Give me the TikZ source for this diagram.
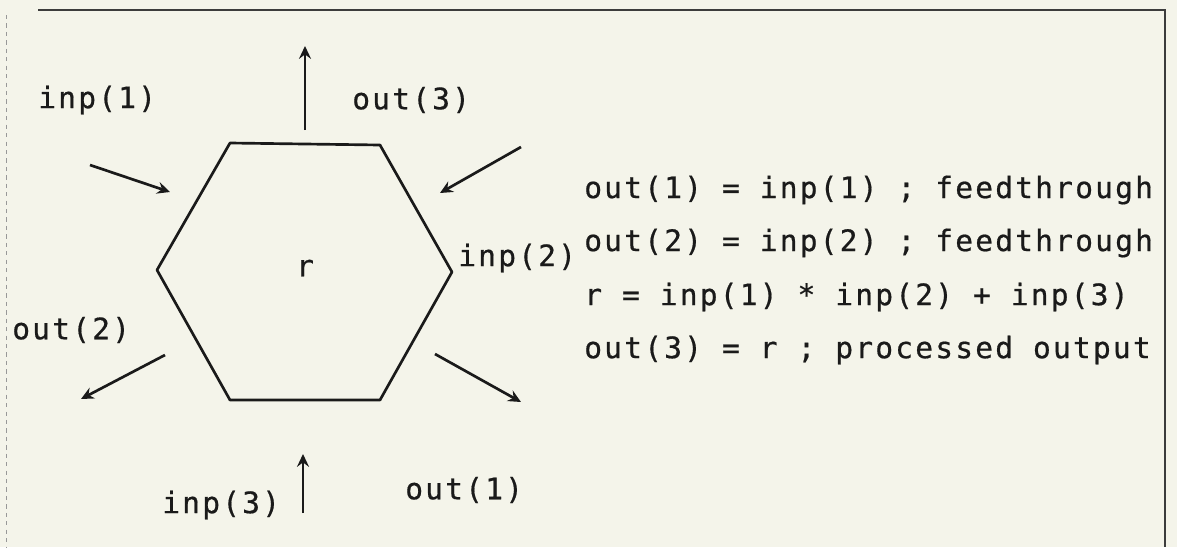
\documentclass[tikz,border=0pt]{standalone}
\usepackage{fontspec}
\newfontfamily\termfont[LetterSpace=7.5, FakeBold=0.6]{DejaVu Sans Mono}
\usetikzlibrary{arrows.meta}
\definecolor{paper}{HTML}{F4F4EA}
\definecolor{ink}{HTML}{1A1A1A}

\begin{document}
\begin{tikzpicture}[
  x=0.025cm, y=-0.025cm,
  font=\termfont\fontsize{21}{25}\selectfont,
  port/.style={-{Stealth[length=3.2mm,width=3mm,inset=1.1mm]}, line width=1.9pt, draw=ink},
  edge/.style={line width=1.9pt, draw=ink, line join=round},
  frame/.style={line width=1pt, draw=ink!85},
  lbl/.style={text=ink, inner sep=0pt, anchor=west},
  eqn/.style={text=ink, inner sep=0pt, anchor=west}
]

% Page and frame.
\fill[paper] (0,0) rectangle (1177,547);
\useasboundingbox (0,0) rectangle (1177,547);
\draw[frame] (38,10) -- (1165,10) -- (1165,547);
\draw[frame, draw=ink!45, dashed, line width=0.6pt] (6,15) -- (6,547);

% Hexagon block.
\coordinate (hn) at (230,143);
\coordinate (hne) at (380,145);
\coordinate (he) at (452,272);
\coordinate (hse) at (380,400);
\coordinate (hsw) at (230,400);
\coordinate (hw) at (157,270);
\draw[edge] (hn) -- (hne) -- (he) -- (hse) -- (hsw) -- (hw) -- cycle;
\node[text=ink, inner sep=0pt] (res) at (305,268) {r};

% Port arrows.
\coordinate (i1a) at (90,165);   \coordinate (i1b) at (170,192);
\coordinate (i2a) at (521,147);  \coordinate (i2b) at (440,193);
\coordinate (i3a) at (303,513);  \coordinate (i3b) at (303,454);
\coordinate (o1a) at (435,354);  \coordinate (o1b) at (521,402);
\coordinate (o2a) at (165,355);  \coordinate (o2b) at (81,399);
\coordinate (o3a) at (305,130);  \coordinate (o3b) at (305,46);
\draw[port] (i1a) -- (i1b);
\draw[port] (i2a) -- (i2b);
\draw[port] (i3a) -- (i3b);
\draw[port] (o1a) -- (o1b);
\draw[port] (o2a) -- (o2b);
\draw[port] (o3a) -- (o3b);

% Port labels.
\node[lbl] (li1) at (38,100) {inp(1)};
\node[lbl] (lo3) at (352,100) {out(3)};
\node[lbl] (li2) at (458,258) {inp(2)};
\node[lbl] (lo2) at (12,330) {out(2)};
\node[lbl] (lo1) at (405,490) {out(1)};
\node[lbl] (li3) at (162,505) {inp(3)};

% Block equations.
\node[eqn] (eq1) at (584,190) {out(1) = inp(1) ; feedthrough};
\node[eqn] (eq2) at (584,243) {out(2) = inp(2) ; feedthrough};
\node[eqn] (eq3) at (584,297) {r = inp(1) * inp(2) + inp(3)};
\node[eqn] (eq4) at (584,350) {out(3) = r ; processed output};

\end{tikzpicture}
\end{document}
